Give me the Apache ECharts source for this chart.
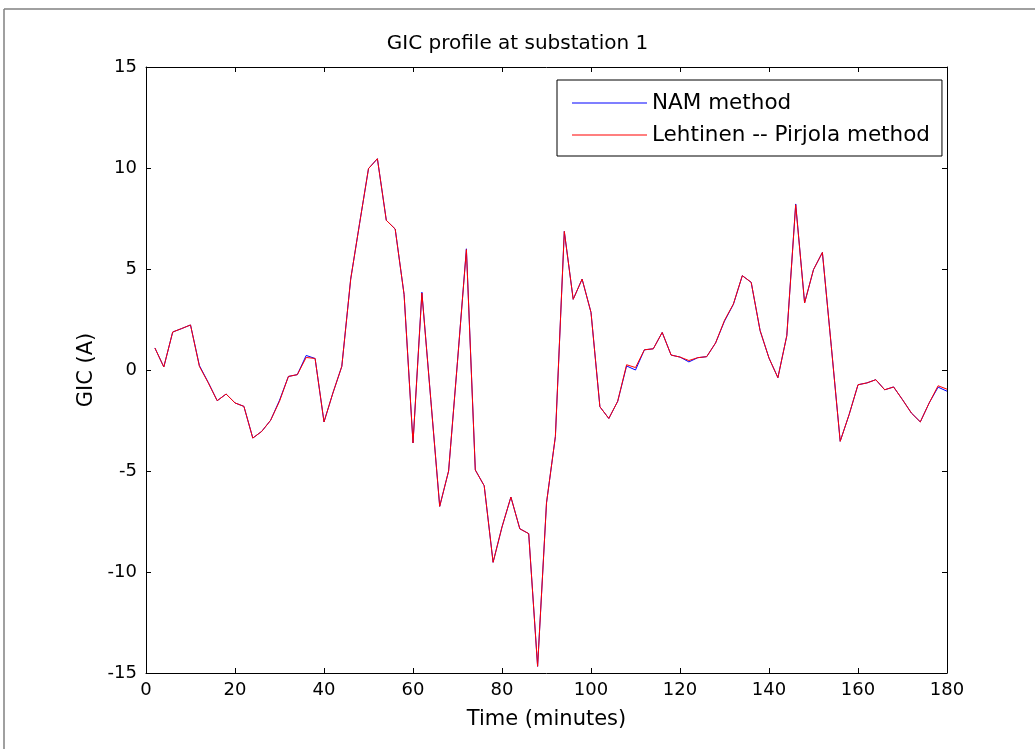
<!DOCTYPE html>
<html>
<head>
<meta charset="utf-8">
<title>GIC profile at substation 1</title>
<script src="https://cdn.jsdelivr.net/npm/echarts@6/dist/echarts.min.js"></script>
<style>
  html, body { margin: 0; padding: 0; background: #ffffff; }
  #chart { width: 1035px; height: 749px; }
</style>
</head>
<body>
<div id="chart"></div>
<script>
// Sample times (minutes)
var times = [2, 4, 6, 8, 10, 12, 14, 16, 18, 20,
             22, 24, 26, 28, 30, 32, 34, 36, 38, 40,
             42, 44, 46, 48, 50, 52, 54, 56, 58, 60,
             62, 64, 66, 68, 70, 72, 74, 76, 78, 80,
             82, 84, 86, 88, 90, 92, 94, 96, 98, 100,
             102, 104, 106, 108, 110, 112, 114, 116, 118, 120,
             122, 124, 126, 128, 130, 132, 134, 136, 138, 140,
             142, 144, 146, 148, 150, 152, 154, 156, 158, 160,
             162, 164, 166, 168, 170, 172, 174, 176, 178, 180];

// GIC (A) computed with the nodal admittance matrix method
var namMethod = [1.09, 0.15, 1.88, 2.05, 2.23, 0.22, -0.62, -1.52, -1.19, -1.63,
                 -1.80, -3.37, -3.04, -2.49, -1.50, -0.32, -0.23, 0.72, 0.57, -2.57,
                 -1.14, 0.18, 4.50, 7.26, 9.97, 10.46, 7.41, 6.98, 3.73, -3.61,
                 3.85, -1.47, -6.75, -5.00, 0.43, 6.00, -4.95, -5.73, -9.52, -7.77,
                 -6.29, -7.86, -8.10, -14.67, -6.58, -3.29, 6.86, 3.50, 4.50, 2.85,
                 -1.82, -2.40, -1.55, 0.20, 0.00, 1.00, 1.05, 1.86, 0.74, 0.64,
                 0.40, 0.61, 0.66, 1.34, 2.42, 3.25, 4.67, 4.34, 1.95, 0.59,
                 -0.38, 1.70, 8.22, 3.32, 4.97, 5.82, 1.17, -3.53, -2.21, -0.73,
                 -0.64, -0.48, -0.98, -0.84, -1.47, -2.13, -2.57, -1.63, -0.85, -1.05];

// GIC (A) computed with the Lehtinen-Pirjola method
var lpMethod = [1.09, 0.15, 1.88, 2.05, 2.23, 0.18, -0.64, -1.52, -1.19, -1.63,
                -1.80, -3.37, -3.04, -2.49, -1.55, -0.32, -0.23, 0.62, 0.57, -2.57,
                -1.14, 0.18, 4.50, 7.26, 9.97, 10.46, 7.41, 6.98, 3.73, -3.61,
                3.81, -1.47, -6.75, -5.00, 0.43, 5.96, -4.95, -5.73, -9.52, -7.77,
                -6.29, -7.86, -8.10, -14.67, -6.58, -3.29, 6.86, 3.50, 4.50, 2.85,
                -1.82, -2.40, -1.55, 0.26, 0.12, 1.00, 1.05, 1.86, 0.74, 0.64,
                0.47, 0.61, 0.66, 1.34, 2.46, 3.27, 4.67, 4.34, 1.95, 0.59,
                -0.38, 1.70, 8.18, 3.32, 4.97, 5.82, 1.17, -3.53, -2.21, -0.73,
                -0.64, -0.48, -0.98, -0.84, -1.47, -2.13, -2.57, -1.63, -0.78, -0.95];

var seriesNames = ['NAM method', 'Lehtinen -- Pirjola method'];

function pairs(vals) {
  return times.map(function (t, i) { return [t, vals[i]]; });
}

var FONT = 'DejaVu Sans';

function boxAxisLine() {
  return { show: true, onZero: false, lineStyle: { color: '#000', width: 1 } };
}
function boxTicks() {
  return { show: true, inside: true, length: 5, lineStyle: { color: '#000', width: 1 } };
}

var chart = echarts.init(document.getElementById('chart'), null, { renderer: 'canvas' });

chart.setOption({
  backgroundColor: '#ffffff',
  animation: false,
  textStyle: { fontFamily: FONT, color: '#000' },
  title: {
    text: 'GIC profile at substation 1',
    left: 'center',
    top: 29,
    textStyle: { fontFamily: FONT, fontSize: 20, fontWeight: 'normal', color: '#000' }
  },
  graphic: [
    { type: 'line', shape: { x1: 4, y1: 9, x2: 1035, y2: 9 }, style: { stroke: '#808080', lineWidth: 1.5 }, silent: true },
    { type: 'line', shape: { x1: 4, y1: 9, x2: 4, y2: 749 }, style: { stroke: '#808080', lineWidth: 1.5 }, silent: true }
  ],
  legend: {
    data: [
      { name: seriesNames[0], icon: 'rect' },
      { name: seriesNames[1], icon: 'rect' }
    ],
    orient: 'vertical',
    left: 557,
    top: 80,
    padding: [12, 12, 10, 15],
    itemWidth: 75,
    itemHeight: 1,
    itemGap: 10,
    itemTextGap: 9,
    borderColor: '#000',
    borderWidth: 1,
    backgroundColor: '#fff',
    textStyle: { fontFamily: FONT, fontSize: 21.5, color: '#000', lineHeight: 21 }
  },
  grid: { left: 146, right: 88, top: 67, bottom: 76, containLabel: false },
  xAxis: [
    {
      type: 'value', min: 0, max: 180, interval: 20, position: 'bottom',
      name: 'Time (minutes)', nameLocation: 'middle', nameGap: 36,
      nameTextStyle: { fontFamily: FONT, fontSize: 21, color: '#000' },
      axisLine: boxAxisLine(), axisTick: boxTicks(),
      axisLabel: { fontFamily: FONT, fontSize: 18, color: '#000', margin: 8 },
      splitLine: { show: false }
    },
    {
      type: 'value', min: 0, max: 180, interval: 20, position: 'top',
      axisLine: boxAxisLine(), axisTick: boxTicks(),
      axisLabel: { show: false }, splitLine: { show: false }
    }
  ],
  yAxis: [
    {
      type: 'value', min: -15, max: 15, interval: 5, position: 'left',
      name: 'GIC (A)', nameLocation: 'middle', nameGap: 47, nameRotate: 90,
      nameTextStyle: { fontFamily: FONT, fontSize: 21, color: '#000' },
      axisLine: boxAxisLine(), axisTick: boxTicks(),
      axisLabel: { fontFamily: FONT, fontSize: 18, color: '#000', margin: 9 },
      splitLine: { show: false }
    },
    {
      type: 'value', min: -15, max: 15, interval: 5, position: 'right',
      axisLine: boxAxisLine(), axisTick: boxTicks(),
      axisLabel: { show: false }, splitLine: { show: false }
    }
  ],
  series: [
    {
      name: seriesNames[0], type: 'line', xAxisIndex: 0, yAxisIndex: 0,
      data: pairs(namMethod), showSymbol: false, symbol: 'none',
      lineStyle: { color: '#0000ff', width: 1 }, itemStyle: { color: '#0000ff' },
      z: 2
    },
    {
      name: seriesNames[1], type: 'line', xAxisIndex: 0, yAxisIndex: 0,
      data: pairs(lpMethod), showSymbol: false, symbol: 'none',
      lineStyle: { color: '#ff0000', width: 1 }, itemStyle: { color: '#ff0000' },
      z: 3
    }
  ]
});
</script>
</body>
</html>
